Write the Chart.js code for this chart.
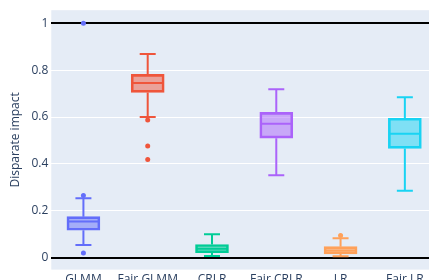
<!DOCTYPE html>
<html>
<head>
<meta charset="utf-8">
<script src="https://cdn.jsdelivr.net/npm/chart.js@4"></script>
<style>
  html, body { margin: 0; padding: 0; background: #fff; overflow: hidden; }
  #wrap { width: 441px; height: 290px; }
</style>
</head>
<body>
<div id="wrap"><canvas id="chart" width="441" height="290"></canvas></div>
<script>
// box plot data
const categories = ['GLMM', 'Fair GLMM', 'CRLR', 'Fair CRLR', 'LR', 'Fair LR'];
const lowerWhisker = [0.054, 0.600, 0.007, 0.352, 0.006, 0.285];
const q1 = [0.117, 0.705, 0.021, 0.510, 0.016, 0.466];
const medians = [0.154, 0.745, 0.038, 0.571, 0.030, 0.529];
const q3 = [0.175, 0.782, 0.056, 0.620, 0.047, 0.595];
const upperWhisker = [0.253, 0.869, 0.100, 0.719, 0.083, 0.684];
const outliers = [[1.0, 0.265, 0.02], [0.587, 0.476, 0.419], [], [], [0.095], []];
const yTicks = [0, 0.2, 0.4, 0.6, 0.8, 1];

const colors = ['#636efa', '#EF553B', '#00cc96', '#ab63fa', '#FFA15A', '#19d3f3'];
const fills = ['rgba(99,110,250,0.5)', 'rgba(239,85,59,0.5)', 'rgba(0,204,150,0.5)',
               'rgba(171,99,250,0.5)', 'rgba(255,161,90,0.5)', 'rgba(25,211,243,0.5)'];

const plotBg = {
    id: 'plotBg',
    beforeDraw(chart) {
        const { ctx, chartArea: a } = chart;
        ctx.save();
        ctx.fillStyle = '#E5ECF6';
        ctx.fillRect(a.left, a.top, a.right - a.left, a.bottom - a.top);
        ctx.restore();
    }
};

// whiskers, caps and median lines
const whiskers = {
    id: 'whiskers',
    afterDatasetsDraw(chart) {
        const { ctx, scales: { x, y } } = chart;
        ctx.save();
        ctx.lineWidth = 2;
        categories.forEach((c, i) => {
            const cx = x.getPixelForValue(i);
            ctx.strokeStyle = colors[i];
            ctx.beginPath();
            ctx.moveTo(cx, y.getPixelForValue(q3[i]));
            ctx.lineTo(cx, y.getPixelForValue(upperWhisker[i]));
            ctx.moveTo(cx, y.getPixelForValue(q1[i]));
            ctx.lineTo(cx, y.getPixelForValue(lowerWhisker[i]));
            const yu = y.getPixelForValue(upperWhisker[i]);
            const yl = y.getPixelForValue(lowerWhisker[i]);
            ctx.moveTo(cx - 8, yu); ctx.lineTo(cx + 8, yu);
            ctx.moveTo(cx - 8, yl); ctx.lineTo(cx + 8, yl);
            const ym = y.getPixelForValue(medians[i]);
            ctx.moveTo(cx - 15, ym); ctx.lineTo(cx + 15, ym);
            ctx.stroke();
        });
        ctx.restore();
    }
};

const outlierPoints = [];
const outlierColors = [];
outliers.forEach((list, i) => {
    list.forEach(v => {
        outlierPoints.push({ x: categories[i], y: v });
        outlierColors.push(colors[i]);
    });
});

const ctx = document.getElementById('chart').getContext('2d');
new Chart(ctx, {
    type: 'bar',
    data: {
        labels: categories,
        datasets: [{
            label: 'boxes',
            data: categories.map((c, i) => [q1[i], q3[i]]),
            backgroundColor: fills,
            borderColor: colors,
            borderWidth: 2,
            borderSkipped: false,
            barThickness: 33,
            order: 2
        }, {
            type: 'line',
            label: 'outliers',
            data: outlierPoints,
            showLine: false,
            pointRadius: 2.5,
            pointBorderWidth: 0,
            pointBackgroundColor: outlierColors,
            pointBorderColor: outlierColors,
            order: 1
        }]
    },
    options: {
        responsive: false,
        animation: false,
        layout: { padding: { top: 9, right: 1, left: 8, bottom: 0 } },
        plugins: {
            legend: { display: false },
            tooltip: { enabled: false }
        },
        scales: {
            x: {
                grid: { display: false, drawTicks: false },
                border: { display: false },
                ticks: {
                    color: '#2a3f5f', font: { family: 'Open Sans', size: 12 },
                    padding: 3, maxRotation: 0, minRotation: 0, autoSkip: false
                }
            },
            y: {
                min: -0.051,
                max: 1.056,
                afterBuildTicks: (scale) => { scale.ticks = yTicks.map(v => ({ value: v })); },
                border: { display: false },
                grid: {
                    drawTicks: false,
                    color: (c) => (c.tick && (c.tick.value === 0 || c.tick.value === 1)) ? '#000' : '#ffffff',
                    lineWidth: (c) => (c.tick && (c.tick.value === 0 || c.tick.value === 1)) ? 2 : 1
                },
                ticks: {
                    color: '#2a3f5f',
                    font: { family: 'Open Sans', size: 12 },
                    padding: 3,
                    callback: (v) => String(+Number(v).toFixed(2))
                },
                title: {
                    display: true,
                    text: 'Disparate impact',
                    color: '#2a3f5f',
                    font: { family: 'Open Sans', size: 12 },
                    padding: { top: 0, bottom: 6 }
                }
            }
        }
    },
    plugins: [plotBg, whiskers]
});
</script>
</body>
</html>
